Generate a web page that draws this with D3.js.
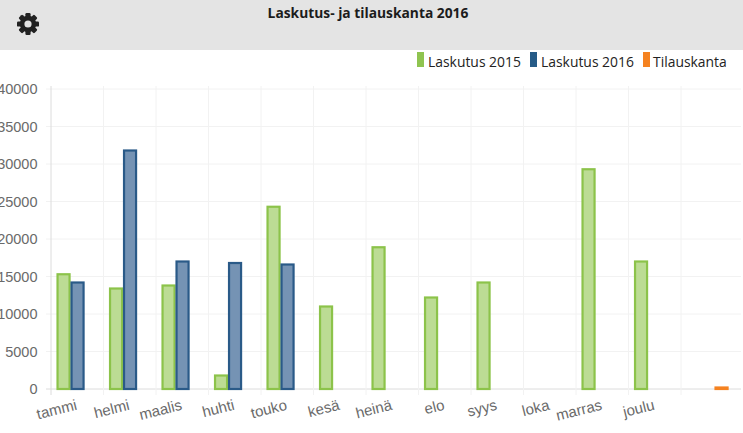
<!DOCTYPE html>
<html><head><meta charset="utf-8">
<script src="https://cdn.jsdelivr.net/npm/d3@7"></script>
<style>html,body{margin:0;padding:0;background:#fff;overflow:hidden}svg{display:block}</style>
</head><body><svg id="c" width="743" height="433"></svg>
<script>
const months = ["tammi","helmi","maalis","huhti","touko","kesä","heinä","elo","syys","loka","marras","joulu",""];
const seriesNames = ["Laskutus 2015","Laskutus 2016","Tilauskanta"];
const laskutus2015 = [15300,13400,13800,1800,24300,11000,18900,12200,14200,0,29300,17000,0];
const laskutus2016 = [14200,31800,17000,16800,16600,0,0,0,0,0,0,0,0];
const tilauskanta = [0,0,0,0,0,0,0,0,0,0,0,0,200];
const yTicks = [0,5000,10000,15000,20000,25000,30000,35000,40000];
const titleText = "Laskutus- ja tilauskanta 2016";
const strokes = ["#8cc34a","#2a5a88","#f58220"];
const fills = ["#bcdc94","#7593b4","#f9b27a"];
const legendColors = ["#8fc450","#265b87","#f58220"];

const svg = d3.select("#c");
svg.append("rect").attr("width",743).attr("height",50).attr("fill","#e4e4e4");
svg.append("text").attr("x",368).attr("y",17.5).attr("text-anchor","middle")
  .attr("font-family","'Open Sans'").attr("font-weight",700).attr("font-size",13.8).attr("fill","#1c1c1c").text(titleText);

// gear icon
const gear = svg.append("g").attr("transform","translate(28,24)").attr("fill","#222");
gear.append("path").attr("fill-rule","evenodd").attr("d",d3.arc()({innerRadius:3.6,outerRadius:8.2,startAngle:0,endAngle:2*Math.PI}));
d3.range(8).forEach(i=>gear.append("rect").attr("x",-2.6).attr("y",-11).attr("width",5.2).attr("height",5).attr("rx",1.2)
  .attr("transform",`rotate(${i*45})`));

const x = d3.scaleBand().domain(d3.range(months.length)).range([51,733.5]);
const y = d3.scaleLinear().domain([0,40000]).range([389,89]);
const catW = x.bandwidth(), groupW = catW*0.8;
const barStep = groupW/3, barW = barStep*0.86;

const grid = svg.append("g");
grid.selectAll(".h").data(yTicks).join("line").attr("x1",46).attr("x2",741)
  .attr("y1",d=>y(d)).attr("y2",d=>y(d)).attr("stroke",d=>d===0?"#dcdcdc":"#f2f2f2");
const vs = d3.range(months.length).map(i=>x(i));
grid.selectAll(".v").data(vs).join("line").attr("x1",d=>d).attr("x2",d=>d).attr("y1",86).attr("y2",395)
  .attr("stroke",(d,i)=>i===0?"#dcdcdc":"#f2f2f2");

const yAxis = d3.axisLeft(y).tickValues(yTicks).tickFormat(d3.format("d")).tickSize(0).tickPadding(0);
const ya = svg.append("g").attr("transform","translate(37.5,0)").call(yAxis);
ya.select(".domain").remove();
ya.selectAll("text").attr("font-family","'Liberation Sans'").attr("font-size",14.5).attr("fill","#6a6a6a");

const xAxis = d3.axisBottom(x).tickFormat(i=>months[i]).tickSize(0);
const xa = svg.append("g").attr("transform","translate(0,389)").call(xAxis);
xa.select(".domain").remove();
xa.selectAll("text").attr("font-family","'Liberation Sans'").attr("font-size",15).attr("fill","#6a6a6a")
  .attr("text-anchor","end").attr("y",0).attr("dy",0)
  .attr("transform",`translate(0.5,20.5) rotate(-14)`);

[laskutus2015,laskutus2016,tilauskanta].forEach((vals,s)=>{
  svg.append("g").selectAll("rect").data(vals.map((v,i)=>({v,i})).filter(d=>d.v>0)).join("rect")
    .attr("x",d=>x(d.i)+(catW-groupW)/2+s*barStep+(barStep-barW)/2+0.3)
    .attr("width",barW)
    .attr("y",d=>y(d.v))
    .attr("height",d=>y(0)-y(d.v))
    .attr("fill",fills[s]).attr("stroke",strokes[s]).attr("stroke-width",2.2);
});

const lx = [417,530,643], tx=[428,541,653];
seriesNames.forEach((n,i)=>{
  svg.append("rect").attr("x",lx[i]).attr("y",52).attr("width",7).attr("height",15).attr("fill",legendColors[i]);
  svg.append("text").attr("x",tx[i]).attr("y",67).attr("font-family","'Open Sans'").attr("font-size",13.9).attr("fill","#222").text(n);
});
</script></body></html>
